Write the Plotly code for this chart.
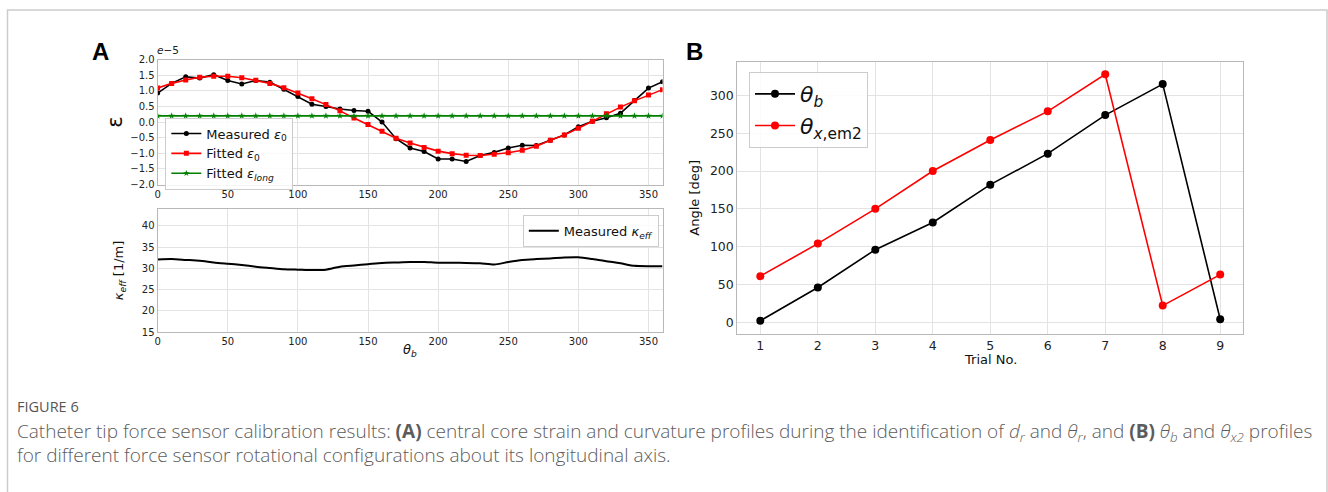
import plotly.graph_objects as go

W, H = 1328, 492

# ---------------- data ----------------
theta_deg = [0, 10, 20, 30, 40, 50, 60, 70, 80, 90, 100, 110, 120, 130, 140, 150, 160, 170, 180,
             190, 200, 210, 220, 230, 240, 250, 260, 270, 280, 290, 300, 310, 320, 330, 340, 350, 360]
eps_measured = [0.93, 1.24, 1.45, 1.41, 1.52, 1.33, 1.22, 1.33, 1.28, 1.05, 0.82, 0.57, 0.50, 0.42,
                0.37, 0.35, 0.00, -0.53, -0.83, -0.94, -1.18, -1.18, -1.26, -1.07, -0.97, -0.83,
                -0.74, -0.75, -0.58, -0.41, -0.15, 0.03, 0.14, 0.28, 0.69, 1.09, 1.29]
eps_fitted = [1.09, 1.24, 1.35, 1.44, 1.47, 1.47, 1.42, 1.34, 1.24, 1.10, 0.93, 0.75, 0.56, 0.36,
              0.13, -0.08, -0.29, -0.52, -0.67, -0.81, -0.93, -1.01, -1.06, -1.07, -1.03, -0.98,
              -0.90, -0.77, -0.58, -0.41, -0.20, 0.03, 0.27, 0.48, 0.68, 0.87, 1.04]
eps_long = [0.20] * 37
kappa_eff = [32.1, 32.2, 32.0, 31.8, 31.4, 31.1, 30.8, 30.4, 30.1, 29.8, 29.7, 29.6, 29.7, 30.4,
             30.7, 31.0, 31.3, 31.4, 31.5, 31.5, 31.35, 31.35, 31.3, 31.2, 30.9, 31.5, 32.0, 32.2,
             32.35, 32.55, 32.6, 32.2, 31.7, 31.2, 30.6, 30.5, 30.5]

trials = [1, 2, 3, 4, 5, 6, 7, 8, 9]
theta_b = [2, 46, 96, 132, 182, 223, 274, 315, 4]
theta_x_em2 = [61, 104, 150, 200, 241, 279, 328, 22, 63]

# ---------------- helpers ----------------
def px(x):
    return x / W

def py(y):
    return 1 - y / H

FONT = "DejaVu Sans"
GRID = "#e3e3e3"
FRAME = "#b8b8b8"

fig = go.Figure()

# Panel A top
fig.add_trace(go.Scatter(x=theta_deg, y=eps_measured, mode="lines+markers",
                         name="Measured <i>ε</i><sub>0</sub>",
                         line=dict(color="black", width=1.6),
                         marker=dict(symbol="circle", size=5, color="black"),
                         xaxis="x", yaxis="y", legend="legend"))
fig.add_trace(go.Scatter(x=theta_deg, y=eps_fitted, mode="lines+markers",
                         name="Fitted <i>ε</i><sub>0</sub>",
                         line=dict(color="red", width=1.6),
                         marker=dict(symbol="square", size=5, color="red"),
                         xaxis="x", yaxis="y", legend="legend"))
fig.add_trace(go.Scatter(x=theta_deg, y=eps_long, mode="lines+markers",
                         name="Fitted <i>ε<sub>long</sub></i>",
                         line=dict(color="green", width=1.6),
                         marker=dict(symbol="star", size=5, color="green"),
                         xaxis="x", yaxis="y", legend="legend"))

# Panel A bottom
fig.add_trace(go.Scatter(x=theta_deg, y=kappa_eff, mode="lines",
                         name="Measured <i>κ<sub>eff</sub></i>",
                         line=dict(color="black", width=2, shape="spline", smoothing=0.6),
                         xaxis="x2", yaxis="y2", legend="legend2"))

# Panel B
fig.add_trace(go.Scatter(x=trials, y=theta_b, mode="lines+markers",
                         name="<i>θ<sub>b</sub></i>",
                         line=dict(color="black", width=1.6),
                         marker=dict(symbol="circle", size=8, color="black"),
                         xaxis="x3", yaxis="y3", legend="legend3"))
fig.add_trace(go.Scatter(x=trials, y=theta_x_em2, mode="lines+markers",
                         name="<i>θ</i><sub><i>x</i>,em2</sub>",
                         line=dict(color="red", width=1.6),
                         marker=dict(symbol="circle", size=8, color="red"),
                         xaxis="x3", yaxis="y3", legend="legend3"))

axis_common = dict(showgrid=True, gridcolor=GRID, gridwidth=1, zeroline=False,
                   showline=True, linecolor=FRAME, linewidth=1.2, mirror=True,
                   ticks="", color="#222")

tick_font_A = dict(family=FONT, size=10, color="#222")
tick_font_B = dict(family=FONT, size=12.5, color="#222")

fig.update_layout(
    width=W, height=H,
    margin=dict(l=0, r=0, t=0, b=0),
    paper_bgcolor="white", plot_bgcolor="white",
    font=dict(family=FONT, size=12, color="#222"),
    xaxis=dict(domain=[px(155), px(661)], range=[0, 360], tickvals=[0, 50, 100, 150, 200, 250, 300, 350],
               tickfont=tick_font_A, anchor="y", **axis_common),
    yaxis=dict(domain=[py(183), py(55)], range=[-2, 2],
               tickvals=[-2, -1.5, -1, -0.5, 0, 0.5, 1, 1.5, 2], tickformat=".1f",
               tickfont=tick_font_A, anchor="x", **axis_common),
    xaxis2=dict(domain=[px(155), px(661)], range=[0, 360], tickvals=[0, 50, 100, 150, 200, 250, 300, 350],
                tickfont=tick_font_A, anchor="y2", **axis_common),
    yaxis2=dict(domain=[py(334.3), py(208)], range=[15, 44], tickvals=[15, 20, 25, 30, 35, 40],
                tickfont=tick_font_A, anchor="x2", **axis_common),
    xaxis3=dict(domain=[px(736), px(1243)], range=[0.6, 9.4], tickvals=trials,
                tickfont=tick_font_B, anchor="y3", **axis_common),
    yaxis3=dict(domain=[py(336), py(57.3)], range=[-15.3, 344.4], tickvals=[0, 50, 100, 150, 200, 250, 300],
                tickfont=tick_font_B, anchor="x3", **axis_common),
    legend=dict(x=px(162.7), y=py(114.3), xanchor="left", yanchor="top",
                bgcolor="rgba(255,255,255,0.85)", bordercolor="#cccccc", borderwidth=1,
                font=dict(family=FONT, size=13, color="#111"), tracegroupgap=0, itemwidth=30),
    legend2=dict(x=px(521), y=py(214), xanchor="left", yanchor="top",
                 bgcolor="rgba(255,255,255,0.85)", bordercolor="#cccccc", borderwidth=1,
                 font=dict(family=FONT, size=13, color="#111"), itemwidth=30),
    legend3=dict(x=px(747.7), y=py(67.7), xanchor="left", yanchor="top",
                 bgcolor="rgba(255,255,255,0.85)", bordercolor="#cccccc", borderwidth=1,
                 font=dict(family=FONT, size=22, color="#111"), itemwidth=40),
    showlegend=True,
)

annotations = [
    dict(text="<b>A</b>", x=px(98), y=py(47), font=dict(family="Liberation Sans", size=24, color="black")),
    dict(text="<b>B</b>", x=px(693), y=py(47), font=dict(family="Liberation Sans", size=24, color="black")),
    dict(text="<i>e</i>−5", x=px(152), y=py(45), xanchor="left", font=dict(family=FONT, size=10.5, color="#222")),
    dict(text="ε", x=px(112), y=py(119), textangle=-90, font=dict(family=FONT, size=21, color="#111")),
    dict(text="<i>κ<sub>eff</sub></i> [1/m]", x=px(117), y=py(271), textangle=-90,
         font=dict(family=FONT, size=13, color="#111")),
    dict(text="<i>θ<sub>b</sub></i>", x=px(408), y=py(353), font=dict(family=FONT, size=13, color="#111")),
    dict(text="Angle [deg]", x=px(693), y=py(196), textangle=-90, font=dict(family=FONT, size=13, color="#111")),
    dict(text="Trial No.", x=px(990), y=py(362), font=dict(family=FONT, size=13, color="#111")),
    dict(text="FIGURE 6", x=px(12), y=py(410), xanchor="left",
         font=dict(family="Open Sans", size=14.5, color="#555")),
    dict(text="Catheter tip force sensor calibration results: <b>(A)</b> central core strain and curvature profiles "
              "during the identification of <i>d<sub>r</sub></i> and <i>θ<sub>r</sub></i>, and <b>(B)</b> "
              "<i>θ<sub>b</sub></i> and <i>θ<sub>x2</sub></i> profiles",
         x=px(12), y=py(437), xanchor="left",
         font=dict(family="Open Sans", size=19, weight=300, color="#5c5c5c")),
    dict(text="for different force sensor rotational configurations about its longitudinal axis.",
         x=px(12), y=py(460), xanchor="left",
         font=dict(family="Open Sans", size=19, weight=300, color="#5c5c5c")),
]
for a in annotations:
    a.setdefault("xref", "paper")
    a.setdefault("yref", "paper")
    a.setdefault("showarrow", False)
    a.setdefault("xanchor", "center")
    a.setdefault("yanchor", "middle")
fig.update_layout(annotations=annotations)

fig.add_shape(type="rect", xref="paper", yref="paper",
              x0=px(4.5), x1=px(1327), y0=-0.05, y1=py(4),
              line=dict(color="#cccccc", width=1.5), fillcolor="rgba(0,0,0,0)", layer="below")

fig.write_html("out.html", config={"displayModeBar": False},
               post_script="document.body.style.margin='0px';document.body.style.overflow='hidden';")
